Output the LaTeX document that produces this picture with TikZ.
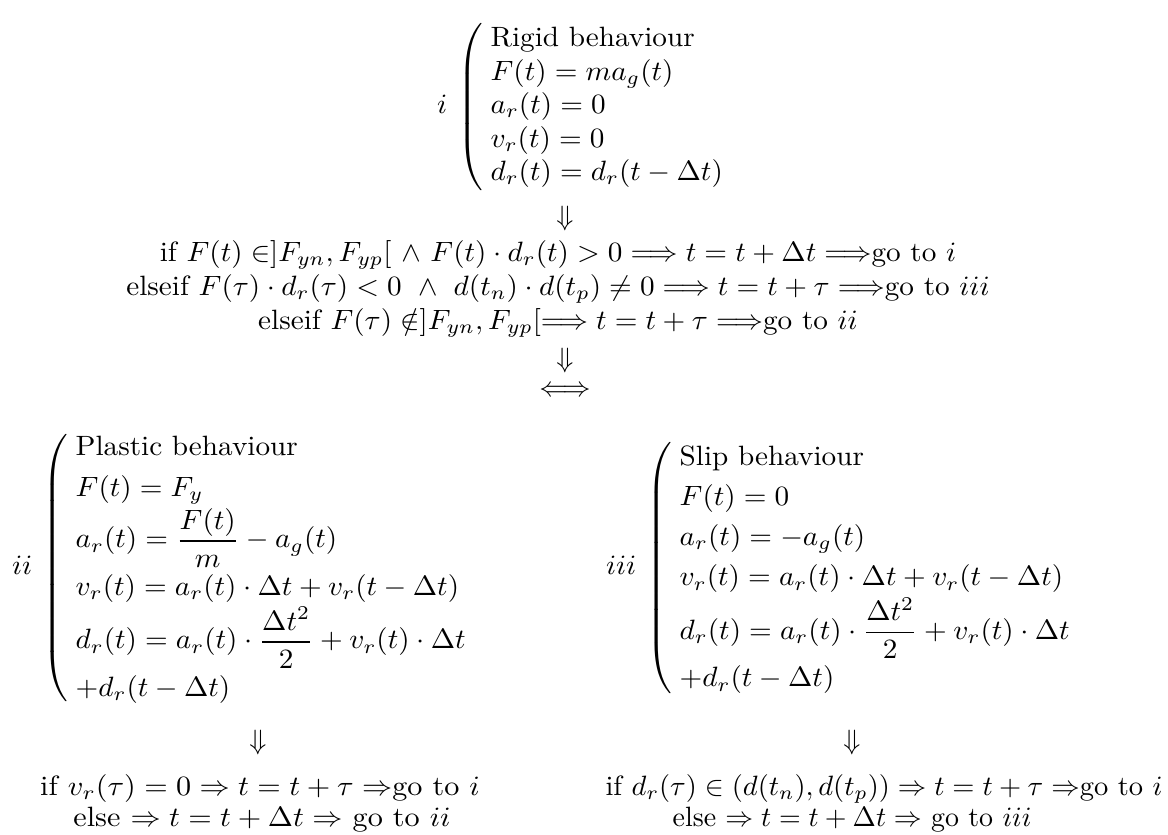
\documentclass[tikz,border=0pt]{standalone}
\usepackage{amsmath,amssymb}
\begin{document}
\begin{tikzpicture}[x=0.3579pt,y=-0.3579pt,
  every node/.style={inner sep=0pt, outer sep=0pt},
  wide/.style={xscale=1.045, transform shape},
  blk/.style={anchor=west, wide},
  line/.style={anchor=base},
  arr/.style={anchor=center}]
\useasboundingbox (0,0) rectangle (1168,834);
% block i
\node[blk] (bi) at (437,107) {$i\hspace{2pt}\left(\begin{array}{@{\hspace{2.5pt}}l@{}}\text{Rigid behaviour}\\ F(t)=ma_g(t)\\ a_r(t)=0\\ v_r(t)=0\\ d_r(t)=d_r(t-\Delta t)\end{array}\right.$};
\node[arr] (a1) at (565,219) {$\Downarrow$};
% conditions
\node[line, wide] (c1) at (558,261) {if $F(t)\in]F_{yn},F_{yp}[\ \wedge\ F(t)\cdot d_r(t)>0\Longrightarrow t=t+\Delta t\Longrightarrow$go to $i$};
\node[line, wide] (c2) at (558,295) {elseif $F(\tau)\cdot d_r(\tau)<0\ \wedge\ d(t_n)\cdot d(t_p)\neq0\Longrightarrow t=t+\tau\Longrightarrow$go to $iii$};
\node[line, wide] (c3) at (558,329) {elseif $F(\tau)\notin]F_{yn},F_{yp}[\Longrightarrow t=t+\tau\Longrightarrow$go to $ii$};
\node[arr] (a2) at (565,361) {$\Downarrow$};
\node[arr] (a3) at (565,391) {$\Longleftrightarrow$};
% block ii
\node[blk] (bii) at (12,568) {$ii\hspace{2pt}\renewcommand{\arraystretch}{1.2}\left(\begin{array}{@{\hspace{2.5pt}}l@{}}\text{Plastic behaviour}\\ F(t)=F_y\\ a_r(t)=\dfrac{F(t)}{m}-a_g(t)\\ v_r(t)=a_r(t)\cdot\Delta t+v_r(t-\Delta t)\\ d_r(t)=a_r(t)\cdot\dfrac{\Delta t^2}{2}+v_r(t)\cdot\Delta t\\ +d_r(t-\Delta t)\end{array}\right.$};
% block iii
\node[blk] (biii) at (606,568) {$iii\hspace{2pt}\renewcommand{\arraystretch}{1.2}\left(\begin{array}{@{\hspace{2.5pt}}l@{}}\text{Slip behaviour}\\ F(t)=0\\ a_r(t)=-a_g(t)\\ v_r(t)=a_r(t)\cdot\Delta t+v_r(t-\Delta t)\\ d_r(t)=a_r(t)\cdot\dfrac{\Delta t^2}{2}+v_r(t)\cdot\Delta t\\ +d_r(t-\Delta t)\end{array}\right.$};
\node[arr] (a4) at (258,743) {$\Downarrow$};
\node[arr] (a5) at (852,743) {$\Downarrow$};
\node[line, xscale=1.08, transform shape] (l1) at (260,795) {if $v_r(\tau)=0\Rightarrow t=t+\tau\Rightarrow$go to $i$};
\node[line, xscale=1.08, transform shape] (l2) at (262,826) {else $\Rightarrow t=t+\Delta t\Rightarrow$ go to $ii$};
\node[line, xscale=1.02, transform shape] (r1) at (884,795) {if $d_r(\tau)\in(d(t_n),d(t_p))\Rightarrow t=t+\tau\Rightarrow$go to $i$};
\node[line] (r2) at (852,826) {else $\Rightarrow t=t+\Delta t\Rightarrow$ go to $iii$};
\end{tikzpicture}
\end{document}
